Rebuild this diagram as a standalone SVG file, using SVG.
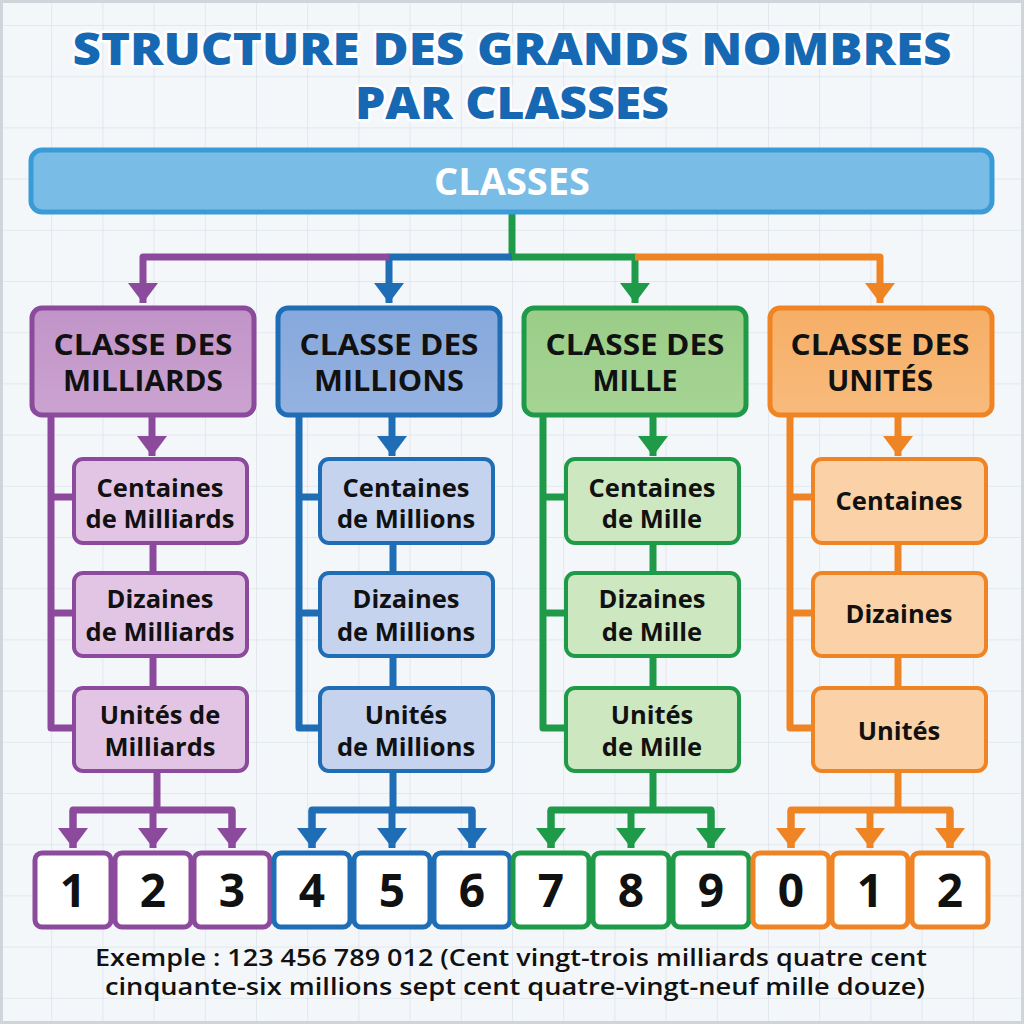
<svg xmlns="http://www.w3.org/2000/svg" width="1024" height="1024" viewBox="0 0 1024 1024">
<defs>
<pattern id="grid" x="0" y="25" width="51.2" height="51.2" patternUnits="userSpaceOnUse">
<path d="M0,0 H51.2 M0,0 V51.2" fill="none" stroke="#dde3ea" stroke-width="1.5"/>
</pattern>
<marker id="aP" viewBox="0 0 30 20" refX="15" refY="20" markerWidth="30" markerHeight="20" markerUnits="userSpaceOnUse"><path d="M0,0 H30 L15,20 Z" fill="#8b4a9c"/></marker>
<marker id="aB" viewBox="0 0 30 20" refX="15" refY="20" markerWidth="30" markerHeight="20" markerUnits="userSpaceOnUse"><path d="M0,0 H30 L15,20 Z" fill="#1f6db5"/></marker>
<marker id="aG" viewBox="0 0 30 20" refX="15" refY="20" markerWidth="30" markerHeight="20" markerUnits="userSpaceOnUse"><path d="M0,0 H30 L15,20 Z" fill="#1e9a48"/></marker>
<marker id="aO" viewBox="0 0 30 20" refX="15" refY="20" markerWidth="30" markerHeight="20" markerUnits="userSpaceOnUse"><path d="M0,0 H30 L15,20 Z" fill="#ef8424"/></marker>
<linearGradient id="gP" x1="0" y1="0" x2="0" y2="1"><stop offset="0" stop-color="#c194c8"/><stop offset="1" stop-color="#cba3d0"/></linearGradient>
<linearGradient id="gB" x1="0" y1="0" x2="0" y2="1"><stop offset="0" stop-color="#86a8dc"/><stop offset="1" stop-color="#95b2e0"/></linearGradient>
<linearGradient id="gG" x1="0" y1="0" x2="0" y2="1"><stop offset="0" stop-color="#9acd87"/><stop offset="1" stop-color="#a6d494"/></linearGradient>
<linearGradient id="gO" x1="0" y1="0" x2="0" y2="1"><stop offset="0" stop-color="#f6ae66"/><stop offset="1" stop-color="#f8bb7c"/></linearGradient>
</defs>
<style>
text{font-family:"Open Sans","DejaVu Sans",sans-serif;text-anchor:middle;fill:#111111}
.title{font-size:44px;font-weight:800;fill:#1768b3;stroke:#ffffff;stroke-width:5;paint-order:stroke;stroke-linejoin:round}
.cls{font-size:28px;font-weight:700}
.sub{font-size:25.5px;font-weight:700}
.dig{font-size:46px;font-weight:700}
.ex{font-size:23px;font-weight:600}
.conn path{fill:none;stroke-width:7;stroke-linejoin:round;stroke-linecap:butt}
.p{stroke:#8b4a9c}.b{stroke:#1f6db5}.g{stroke:#1e9a48}.o{stroke:#ef8424}
.digbox{fill:#ffffff;stroke-width:5}
</style>
<rect x="0" y="0" width="1024" height="1024" fill="#f4f7fa"/>
<rect x="0" y="0" width="1024" height="1024" fill="url(#grid)"/>
<rect x="1.5" y="1.5" width="1021" height="1021" fill="none" stroke="#cfd5db" stroke-width="3"/>

<g id="title">
<text class="title"><tspan x="512" y="65" textLength="879" lengthAdjust="spacingAndGlyphs">STRUCTURE DES GRANDS NOMBRES</tspan><tspan x="512" y="119" textLength="314" lengthAdjust="spacingAndGlyphs">PAR CLASSES</tspan></text>
</g>

<g id="connectors" class="conn">
<path class="g" d="M512,213 V257 H635 V303" marker-end="url(#aG)"/>
<path class="b" d="M512,257 H389 V303" marker-end="url(#aB)"/>
<path class="p" d="M389,257 H143 V303" marker-end="url(#aP)"/>
<path class="o" d="M635,257 H880 V303" marker-end="url(#aO)"/>

<path class="p" d="M152,417 V456" marker-end="url(#aP)"/>
<path class="p" d="M51,417 V728 H75 M48,497 H75 M48,613 H75"/>
<path class="p" d="M153,544 V572 M153,657 V687"/>
<path class="p" d="M157,772 V810"/>
<path class="p" d="M73,848 V810 H232 V848"/>
<path class="p" d="M73,810 V848" marker-end="url(#aP)"/>
<path class="p" d="M153,810 V848" marker-end="url(#aP)"/>
<path class="p" d="M232,810 V848" marker-end="url(#aP)"/>

<path class="b" d="M392,417 V456" marker-end="url(#aB)"/>
<path class="b" d="M299,417 V728 H321 M296,497 H321 M296,613 H321"/>
<path class="b" d="M393,544 V572 M393,657 V687"/>
<path class="b" d="M393,772 V810"/>
<path class="b" d="M312,848 V810 H472 V848"/>
<path class="b" d="M312,810 V848" marker-end="url(#aB)"/>
<path class="b" d="M392,810 V848" marker-end="url(#aB)"/>
<path class="b" d="M472,810 V848" marker-end="url(#aB)"/>

<path class="g" d="M653,417 V456" marker-end="url(#aG)"/>
<path class="g" d="M543,417 V728 H567 M540,497 H567 M540,613 H567"/>
<path class="g" d="M653,544 V572 M653,657 V687"/>
<path class="g" d="M653,772 V810"/>
<path class="g" d="M551,848 V810 H711 V848"/>
<path class="g" d="M551,810 V848" marker-end="url(#aG)"/>
<path class="g" d="M631,810 V848" marker-end="url(#aG)"/>
<path class="g" d="M711,810 V848" marker-end="url(#aG)"/>

<path class="o" d="M898,417 V456" marker-end="url(#aO)"/>
<path class="o" d="M790,417 V728 H814 M787,497 H814 M787,613 H814"/>
<path class="o" d="M898,544 V572 M898,657 V687"/>
<path class="o" d="M898,772 V810"/>
<path class="o" d="M791,848 V810 H950 V848"/>
<path class="o" d="M791,810 V848" marker-end="url(#aO)"/>
<path class="o" d="M870,810 V848" marker-end="url(#aO)"/>
<path class="o" d="M950,810 V848" marker-end="url(#aO)"/>
</g>

<g id="classes">
<rect x="31" y="150" width="961" height="62" rx="11" fill="#79bde6" stroke="#3b9bd7" stroke-width="5"/>
<text x="512" y="195" style="font-size:38px;font-weight:700;fill:#ffffff">CLASSES</text>
</g>

<g id="classe-milliards">
<rect x="32" y="308" width="222" height="107" rx="10" fill="url(#gP)" stroke="#8b4a9c" stroke-width="5"/>
<text class="cls"><tspan x="143" y="355" textLength="179" lengthAdjust="spacingAndGlyphs">CLASSE DES</tspan><tspan x="143" y="391" textLength="160" lengthAdjust="spacingAndGlyphs">MILLIARDS</tspan></text>
</g>
<g id="classe-millions">
<rect x="278" y="308" width="222" height="107" rx="10" fill="url(#gB)" stroke="#1f6db5" stroke-width="5"/>
<text class="cls"><tspan x="389" y="355" textLength="179" lengthAdjust="spacingAndGlyphs">CLASSE DES</tspan><tspan x="389" y="391" textLength="150" lengthAdjust="spacingAndGlyphs">MILLIONS</tspan></text>
</g>
<g id="classe-mille">
<rect x="524" y="308" width="222" height="107" rx="10" fill="url(#gG)" stroke="#1e9a48" stroke-width="5"/>
<text class="cls"><tspan x="635" y="355" textLength="179" lengthAdjust="spacingAndGlyphs">CLASSE DES</tspan><tspan x="635" y="391" textLength="85" lengthAdjust="spacingAndGlyphs">MILLE</tspan></text>
</g>
<g id="classe-unites">
<rect x="770" y="308" width="222" height="107" rx="10" fill="url(#gO)" stroke="#ef8424" stroke-width="5"/>
<text class="cls"><tspan x="880" y="355" textLength="179" lengthAdjust="spacingAndGlyphs">CLASSE DES</tspan><tspan x="880" y="391" textLength="106" lengthAdjust="spacingAndGlyphs">UNITÉS</tspan></text>
</g>

<g id="centaines-milliards">
<rect x="74" y="459" width="173" height="84" rx="9" fill="#e2c5e4" stroke="#8b4a9c" stroke-width="4"/>
<text class="sub"><tspan x="160" y="497">Centaines</tspan><tspan x="160" y="528">de Milliards</tspan></text>
</g>
<g id="dizaines-milliards">
<rect x="74" y="573" width="173" height="83" rx="9" fill="#e2c5e4" stroke="#8b4a9c" stroke-width="4"/>
<text class="sub"><tspan x="160" y="608">Dizaines</tspan><tspan x="160" y="641">de Milliards</tspan></text>
</g>
<g id="unites-milliards">
<rect x="74" y="688" width="173" height="83" rx="9" fill="#e2c5e4" stroke="#8b4a9c" stroke-width="4"/>
<text class="sub"><tspan x="160" y="724">Unités de</tspan><tspan x="160" y="756">Milliards</tspan></text>
</g>

<g id="centaines-millions">
<rect x="320" y="459" width="173" height="84" rx="9" fill="#c5d3ee" stroke="#1f6db5" stroke-width="4"/>
<text class="sub"><tspan x="406" y="497">Centaines</tspan><tspan x="406" y="528">de Millions</tspan></text>
</g>
<g id="dizaines-millions">
<rect x="320" y="573" width="173" height="83" rx="9" fill="#c5d3ee" stroke="#1f6db5" stroke-width="4"/>
<text class="sub"><tspan x="406" y="608">Dizaines</tspan><tspan x="406" y="641">de Millions</tspan></text>
</g>
<g id="unites-millions">
<rect x="320" y="688" width="173" height="83" rx="9" fill="#c5d3ee" stroke="#1f6db5" stroke-width="4"/>
<text class="sub"><tspan x="406" y="724">Unités</tspan><tspan x="406" y="756">de Millions</tspan></text>
</g>

<g id="centaines-mille">
<rect x="566" y="459" width="173" height="84" rx="9" fill="#cde8c0" stroke="#1e9a48" stroke-width="4"/>
<text class="sub"><tspan x="652" y="497">Centaines</tspan><tspan x="652" y="528">de Mille</tspan></text>
</g>
<g id="dizaines-mille">
<rect x="566" y="573" width="173" height="83" rx="9" fill="#cde8c0" stroke="#1e9a48" stroke-width="4"/>
<text class="sub"><tspan x="652" y="608">Dizaines</tspan><tspan x="652" y="641">de Mille</tspan></text>
</g>
<g id="unites-mille">
<rect x="566" y="688" width="173" height="83" rx="9" fill="#cde8c0" stroke="#1e9a48" stroke-width="4"/>
<text class="sub"><tspan x="652" y="724">Unités</tspan><tspan x="652" y="756">de Mille</tspan></text>
</g>

<g id="centaines">
<rect x="813" y="459" width="173" height="84" rx="9" fill="#fbd2a7" stroke="#ef8424" stroke-width="4"/>
<text class="sub" x="899" y="510">Centaines</text>
</g>
<g id="dizaines">
<rect x="813" y="573" width="173" height="83" rx="9" fill="#fbd2a7" stroke="#ef8424" stroke-width="4"/>
<text class="sub" x="899" y="623">Dizaines</text>
</g>
<g id="unites">
<rect x="813" y="688" width="173" height="83" rx="9" fill="#fbd2a7" stroke="#ef8424" stroke-width="4"/>
<text class="sub" x="899" y="740">Unités</text>
</g>

<g id="digits">
<g id="d1"><rect class="digbox" x="35" y="853" width="76" height="74" rx="7" stroke="#8b4a9c"/><text class="dig" x="73" y="907">1</text></g>
<g id="d2"><rect class="digbox" x="115" y="853" width="76" height="74" rx="7" stroke="#8b4a9c"/><text class="dig" x="153" y="907">2</text></g>
<g id="d3"><rect class="digbox" x="194" y="853" width="76" height="74" rx="7" stroke="#8b4a9c"/><text class="dig" x="232" y="907">3</text></g>
<g id="d4"><rect class="digbox" x="274" y="853" width="76" height="74" rx="7" stroke="#1f6db5"/><text class="dig" x="312" y="907">4</text></g>
<g id="d5"><rect class="digbox" x="354" y="853" width="76" height="74" rx="7" stroke="#1f6db5"/><text class="dig" x="392" y="907">5</text></g>
<g id="d6"><rect class="digbox" x="434" y="853" width="76" height="74" rx="7" stroke="#1f6db5"/><text class="dig" x="472" y="907">6</text></g>
<g id="d7"><rect class="digbox" x="513" y="853" width="76" height="74" rx="7" stroke="#1e9a48"/><text class="dig" x="551" y="907">7</text></g>
<g id="d8"><rect class="digbox" x="593" y="853" width="76" height="74" rx="7" stroke="#1e9a48"/><text class="dig" x="631" y="907">8</text></g>
<g id="d9"><rect class="digbox" x="673" y="853" width="76" height="74" rx="7" stroke="#1e9a48"/><text class="dig" x="711" y="907">9</text></g>
<g id="d10"><rect class="digbox" x="753" y="853" width="76" height="74" rx="7" stroke="#ef8424"/><text class="dig" x="791" y="907">0</text></g>
<g id="d11"><rect class="digbox" x="832" y="853" width="76" height="74" rx="7" stroke="#ef8424"/><text class="dig" x="870" y="907">1</text></g>
<g id="d12"><rect class="digbox" x="912" y="853" width="76" height="74" rx="7" stroke="#ef8424"/><text class="dig" x="950" y="907">2</text></g>
</g>

<g id="example">
<text class="ex"><tspan x="511" y="966" textLength="832" lengthAdjust="spacingAndGlyphs">Exemple : 123 456 789 012 (Cent vingt-trois milliards quatre cent</tspan><tspan x="515" y="995" textLength="820" lengthAdjust="spacingAndGlyphs">cinquante-six millions sept cent quatre-vingt-neuf mille douze)</tspan></text>
</g>
</svg>
